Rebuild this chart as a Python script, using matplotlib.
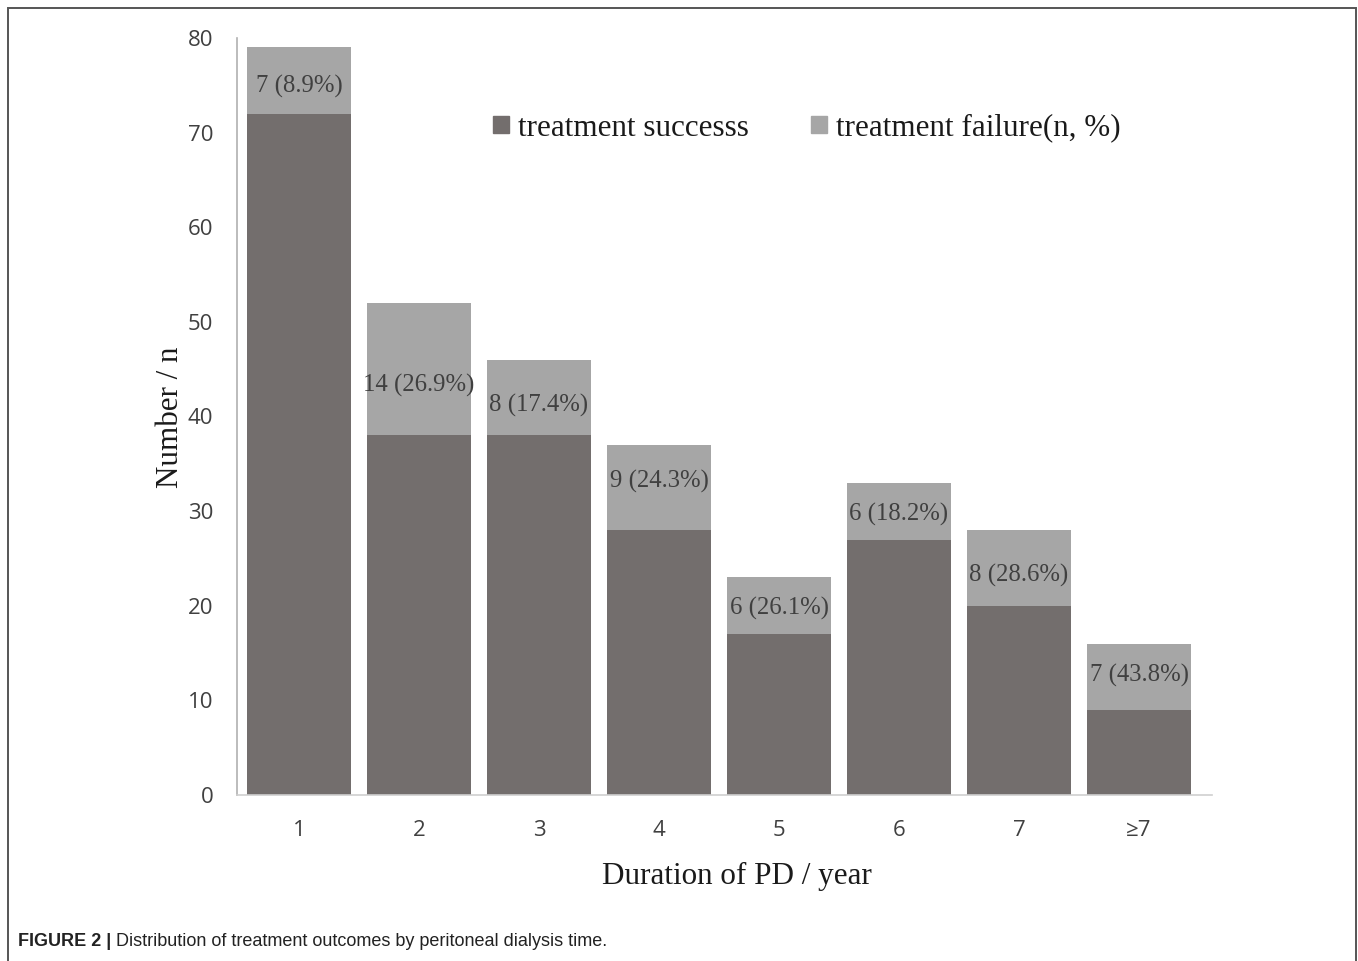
import matplotlib
matplotlib.use("Agg")
import matplotlib.pyplot as plt
import matplotlib.patches as mpatches
import numpy as np

categories = ["1", "2", "3", "4", "5", "6", "7", "≥7"]
success = [72, 38, 38, 28, 17, 27, 20, 9]
failure = [7, 14, 8, 9, 6, 6, 8, 7]
fail_labels = ["7 (8.9%)", "14 (26.9%)", "8 (17.4%)", "9 (24.3%)", "6 (26.1%)",
               "6 (18.2%)", "8 (28.6%)", "7 (43.8%)"]
label_shift = [-0.6, -1.7, -0.8, 0.6, -0.3, -0.3, -0.8, 0.1]
yticks = [0, 10, 20, 30, 40, 50, 60, 70, 80]

W, H = 1358, 961
fig = plt.figure(figsize=(W / 100, H / 100), dpi=100)
ax = fig.add_axes([237 / W, 1 - 795 / H, (1212 - 237) / W, (795 - 38) / H])

dark = "#736e6d"
light = "#a6a6a6"
x = np.arange(1, len(categories) + 1)
bw = 0.867
ax.bar(x, success, width=bw, color=dark, zorder=2)
ax.bar(x, failure, bottom=success, width=bw, color=light, zorder=2)

for xi, s, f, lab, sh in zip(x, success, failure, fail_labels, label_shift):
    ax.text(xi, s + f / 2 + sh, lab, ha="center", va="center",
            family="Liberation Serif", fontsize=17.8, color="#404040", zorder=3)

ax.set_xlim(0.483, 8.608)
ax.set_ylim(0, 80)
ax.set_xticks(x)
ax.set_xticklabels(categories, family="Open Sans", fontsize=16, color="#404040")
ax.set_yticks(yticks)
ax.set_yticklabels([str(v) for v in yticks], family="Open Sans", fontsize=16, color="#404040")
ax.tick_params(axis="both", length=0)
ax.tick_params(axis="y", pad=17)
ax.tick_params(axis="x", pad=18)
for sp in ["top", "right"]:
    ax.spines[sp].set_visible(False)
ax.spines["left"].set_color("#b0b0b0")
ax.spines["bottom"].set_color("#cfcfcf")
ax.spines["left"].set_linewidth(1.2)
ax.spines["bottom"].set_linewidth(1.2)

ax.set_xlabel("Duration of PD / year", family="Liberation Serif", fontsize=22.4,
              color="#1a1a1a")
ax.xaxis.set_label_coords((737 - 237) / (1212 - 237), -(876 - 795) / (795 - 38))
ax.xaxis.label.set_va("center")
ax.set_ylabel("Number / n", family="Liberation Serif", fontsize=22.3,
              color="#1a1a1a")
ax.yaxis.set_label_coords(-(237 - 171) / (1212 - 237), (795 - 417) / (795 - 38))
ax.yaxis.label.set_va("center")

handles = [mpatches.Patch(color=dark, label="treatment successs"),
           mpatches.Patch(color=light, label="treatment failure(n, %)")]
leg = ax.legend(handles=handles, ncol=2, frameon=False, loc="center",
                bbox_to_anchor=((807 - 237) / (1212 - 237), (795 - 128) / (795 - 38)),
                prop={"family": "Liberation Serif", "size": 22.4},
                handlelength=0.5, handleheight=0.5, handletextpad=0.3,
                columnspacing=2.0, borderpad=0)
for t in leg.get_texts():
    t.set_color("#1a1a1a")

border = mpatches.Rectangle((8 / W, -0.05), (1356 - 8) / W, 1.05 - 8 / H,
                            transform=fig.transFigure, fill=False,
                            edgecolor="#555555", linewidth=1.4)
fig.add_artist(border)

cap1 = fig.text(18 / W, 1 - 942 / H, "FIGURE 2 |", family="Liberation Sans",
                fontweight="bold", fontsize=13, color="#222222", va="center")
fig.canvas.draw()
bb = cap1.get_window_extent(fig.canvas.get_renderer())
fig.text((bb.x1 + 5) / W, 1 - 942 / H,
         "Distribution of treatment outcomes by peritoneal dialysis time.",
         family="Liberation Sans", fontsize=13, color="#222222", va="center")

fig.savefig("out.png", dpi=100)
